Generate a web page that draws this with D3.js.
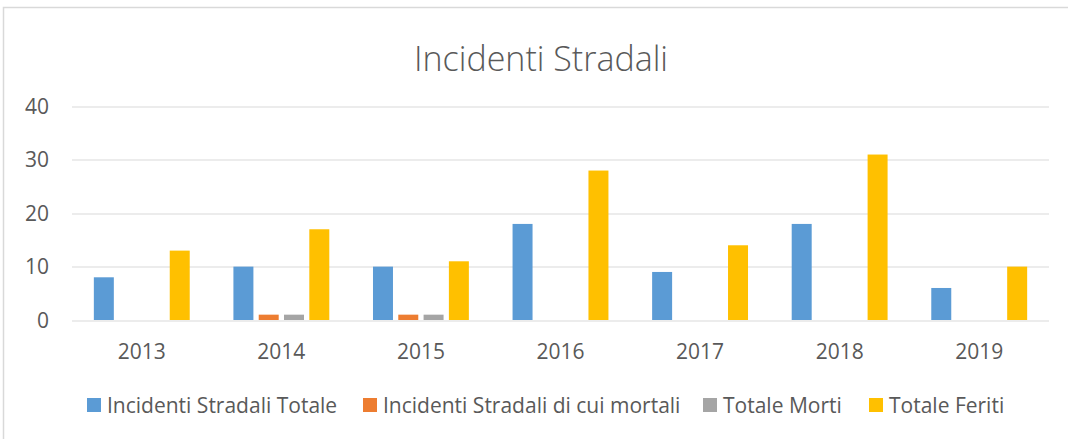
<!DOCTYPE html>
<html>
<head>
<meta charset="utf-8">
<script src="https://cdn.jsdelivr.net/npm/d3@7"></script>
<style>
  body { margin: 0; background: #fff; }
  text { font-family: "Open Sans", sans-serif; fill: #595959; }
</style>
</head>
<body>
<div id="chart"></div>
<script>
const years = ['2013', '2014', '2015', '2016', '2017', '2018', '2019'];
const seriesNames = ['Incidenti Stradali Totale', 'Incidenti Stradali di cui mortali', 'Totale Morti', 'Totale Feriti'];
const incidentiTotale = [8, 10, 10, 18, 9, 18, 6];
const incidentiMortali = [0, 1, 1, 0, 0, 0, 0];
const totaleMorti = [0, 1, 1, 0, 0, 0, 0];
const totaleFeriti = [13, 17, 11, 28, 14, 31, 10];
const yTicks = [0, 10, 20, 30, 40];
const colors = ['#5B9BD5', '#ED7D31', '#A5A5A5', '#FFC000'];

const allSeries = [incidentiTotale, incidentiMortali, totaleMorti, totaleFeriti];

const W = 1068, H = 439;
const margin = { top: 106.5, right: 19, bottom: 119, left: 72 };
const width = W - margin.left - margin.right,
  height = H - margin.top - margin.bottom;

const svg = d3.select('#chart')
  .append('svg')
  .attr('width', W)
  .attr('height', H);

// chart frame (only top/left visible)
svg.append('rect')
  .attr('x', 3.5)
  .attr('y', 7.5)
  .attr('width', W + 10)
  .attr('height', H + 10)
  .attr('fill', 'none')
  .attr('stroke', '#D9D9D9')
  .attr('stroke-width', 1.5);

svg.append('text')
  .attr('x', 541)
  .attr('y', 71)
  .style('text-anchor', 'middle')
  .style('font-size', '34px')
  .style('font-weight', 300)
  .text('Incidenti Stradali');

const g = svg.append('g')
  .attr('transform', 'translate(' + margin.left + ',' + margin.top + ')');

const x0 = d3.scaleBand()
  .domain(years)
  .range([0, width])
  .paddingInner(0.313)
  .paddingOuter(0.1565);

const x1 = d3.scaleBand()
  .domain(d3.range(seriesNames.length))
  .range([0, x0.bandwidth()])
  .paddingInner(0.21);

const y = d3.scaleLinear()
  .domain([0, 40])
  .range([height, 0]);

// gridlines
g.append('g')
  .selectAll('line')
  .data(yTicks)
  .enter()
  .append('line')
  .attr('x1', 0)
  .attr('x2', width)
  .attr('y1', d => Math.round(y(d)) + 0.5)
  .attr('y2', d => Math.round(y(d)) + 0.5)
  .attr('stroke', '#D9D9D9')
  .attr('stroke-width', 1.2);

// y labels
g.append('g')
  .selectAll('text')
  .data(yTicks)
  .enter()
  .append('text')
  .attr('x', -23)
  .attr('y', d => y(d))
  .attr('dy', '0.36em')
  .style('text-anchor', 'end')
  .style('font-size', '21px')
  .text(d => d);

// bars
const groups = g.selectAll('.year')
  .data(years)
  .enter()
  .append('g')
  .attr('class', 'year')
  .attr('transform', d => 'translate(' + x0(d) + ',0)');

groups.selectAll('rect')
  .data((d, i) => allSeries.map((s, j) => ({ k: j, v: s[i] })))
  .enter()
  .append('rect')
  .attr('x', d => x1(d.k))
  .attr('width', x1.bandwidth())
  .attr('y', d => y(d.v))
  .attr('height', d => y(0) - y(d.v))
  .style('fill', d => colors[d.k]);

// x labels
g.append('g')
  .selectAll('text')
  .data(years)
  .enter()
  .append('text')
  .attr('x', d => x0(d) + x0.bandwidth() / 2)
  .attr('y', height + 39)
  .style('text-anchor', 'middle')
  .style('font-size', '21px')
  .text(d => d);

// legend
const legendX = [87, 363, 703, 869];
const legend = svg.append('g')
  .selectAll('g')
  .data(seriesNames)
  .enter()
  .append('g')
  .attr('transform', (d, i) => 'translate(' + legendX[i] + ',398)');

legend.append('rect')
  .attr('width', 14)
  .attr('height', 14)
  .style('fill', (d, i) => colors[i]);

legend.append('text')
  .attr('x', 20)
  .attr('y', 14.5)
  .style('font-size', '21px')
  .text(d => d);
</script>
</body>
</html>
